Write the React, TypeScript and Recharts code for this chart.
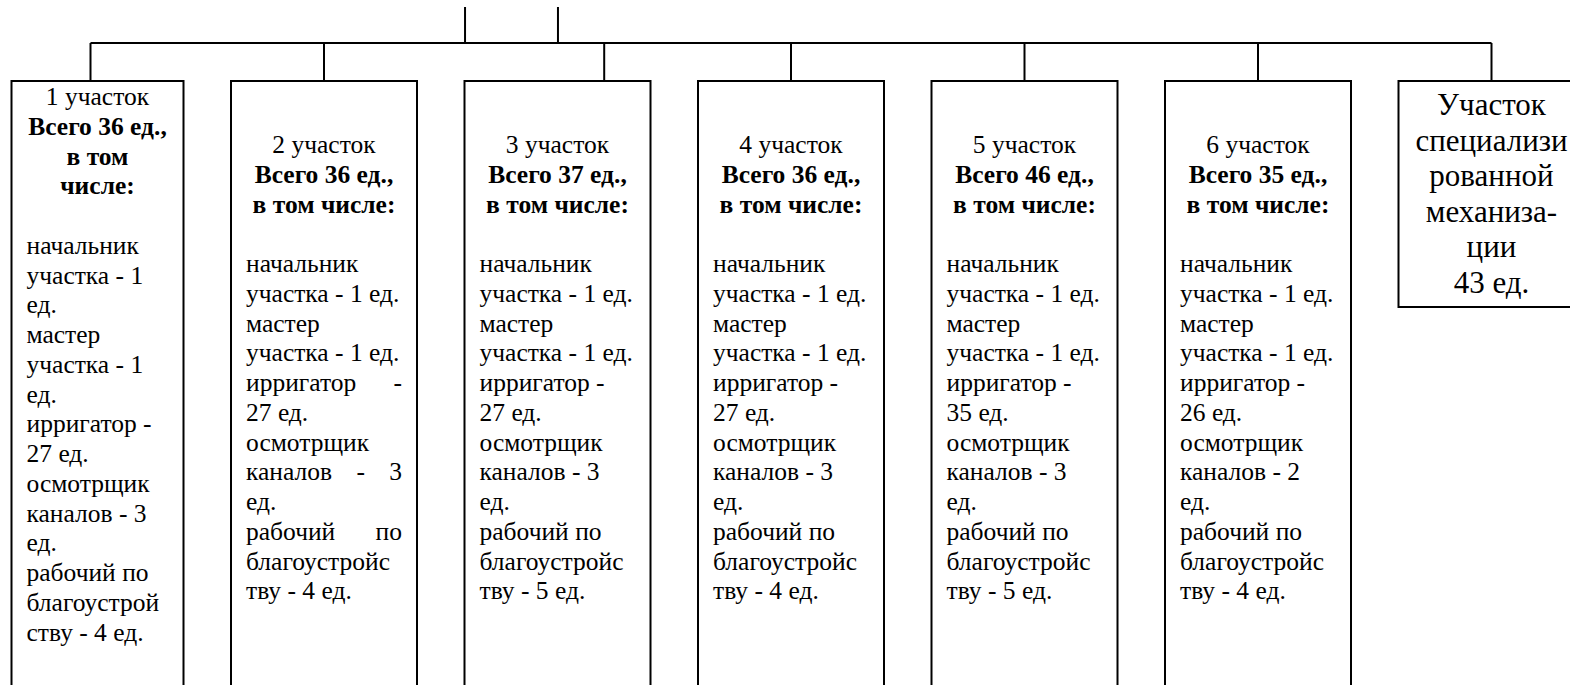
import { ComposedChart, Scatter, XAxis, YAxis, ReferenceLine } from "recharts"

// Org chart data
const sections = ["1 участок", "2 участок", "3 участок", "4 участок", "5 участок", "6 участок"]
const totals = [36, 36, 37, 36, 46, 35]
const chiefs = [1, 1, 1, 1, 1, 1]
const masters = [1, 1, 1, 1, 1, 1]
const irrigators = [27, 27, 27, 27, 35, 26]
const inspectors = [3, 3, 3, 3, 3, 2]
const workers = [4, 4, 5, 4, 5, 4]
const mechLines = ["Участок", "специализи", "рованной", "механиза-", "ции"]
const mechTotal = 43

// Layout (pixels / axis units)
const CHART_W = 1570
const CHART_H = 685
const UNIT_PX = 233.5
const X_MIN = -90.5 / UNIT_PX
const X_MAX = X_MIN + CHART_W / UNIT_PX
const ROOT_TOP = 7
const BUS_Y = 43
const BOX_TOP = 81
const ROOT_X = [1.604, 2.002]
const DROP_X = [0, 1, 2.2, 3, 4, 5, 6]
const HALF_W = 93
const FONT = "Liberation Serif, Times New Roman, DejaVu Serif, serif"
const FS = 25.5
const PITCH = 29.75
const PAD = 15

const rows = [...sections.map((_, i) => ({ x: i, y: BOX_TOP, idx: i })), { x: 6, y: BOX_TOP, idx: 6 }]

let ctx: CanvasRenderingContext2D | null = null
function measure(text: string, bold: boolean) {
  if (!ctx) ctx = document.createElement("canvas").getContext("2d")
  if (!ctx) return text.length * FS * 0.45
  ctx.font = `${bold ? "bold " : ""}${FS}px "Liberation Serif", serif`
  return ctx.measureText(text).width
}

type Line = { text: string; bold?: boolean; center?: boolean; justify?: boolean; blank?: boolean }

function sectionLines(i: number): Line[] {
  const narrow = i === 0
  const out: Line[] = [
    { text: sections[i], center: true },
    { text: `Всего ${totals[i]} ед.,`, bold: true, center: true },
  ]
  if (narrow) {
    out.push({ text: "в том", bold: true, center: true }, { text: "числе:", bold: true, center: true })
  } else {
    out.push({ text: "в том числе:", bold: true, center: true })
  }
  out.push({ text: "", blank: true })
  const paras = narrow
    ? [
        ["начальник", `участка - ${chiefs[i]}`, "ед."],
        ["мастер", `участка - ${masters[i]}`, "ед."],
        ["ирригатор -", `${irrigators[i]} ед.`],
        ["осмотрщик", `каналов - ${inspectors[i]}`, "ед."],
        ["рабочий по", "благоустрой", `ству - ${workers[i]} ед.`],
      ]
    : [
        ["начальник", `участка - ${chiefs[i]} ед.`],
        ["мастер", `участка - ${masters[i]} ед.`],
        ["ирригатор -", `${irrigators[i]} ед.`],
        ["осмотрщик", `каналов - ${inspectors[i]}`, "ед."],
        ["рабочий по", "благоустройс", `тву - ${workers[i]} ед.`],
      ]
  const justify = i === 1
  paras.forEach((p) =>
    p.forEach((t, k) => out.push({ text: t, justify: justify && k < p.length - 1 && t.includes(" ") }))
  )
  return out
}

function BoxShape(props: any) {
  const { cx, cy, payload } = props
  const i = payload.idx
  if (i === 6) {
    const left = cx - HALF_W
    return (
      <g>
        <rect x={left} y={cy} width={HALF_W * 2 + 20} height={226} fill="#fff" stroke="#000" strokeWidth={2} />
        {[...mechLines, `${mechTotal} ед.`].map((t, k) => (
          <text key={k} x={cx} y={cy + 34 + k * 35.5} textAnchor="middle" style={{ fontFamily: FONT, fontSize: 31 }} fill="#000">
            {t}
          </text>
        ))}
      </g>
    )
  }
  const left = i === 0 ? cx - 79 : cx - HALF_W
  const right = cx + HALF_W
  const center = (left + right) / 2
  const first = i === 0 ? 24 : 72
  const lines = sectionLines(i)
  return (
    <g>
      <rect x={left} y={cy} width={right - left} height={CHART_H} fill="#fff" stroke="#000" strokeWidth={2} />
      {lines.map((l, k) => {
        const y = cy + first + k * PITCH
        if (l.blank) return null
        const common = {
          fill: "#000",
          style: { fontFamily: FONT, fontSize: FS, fontWeight: l.bold ? 700 : 400 },
        }
        if (l.center) {
          return (
            <text key={k} x={center} y={y} textAnchor="middle" {...common}>
              {l.text}
            </text>
          )
        }
        if (l.justify) {
          const words = l.text.split(" ")
          const widths = words.map((w) => measure(w, false))
          const span = right - PAD - (left + PAD)
          const gap = (span - widths.reduce((a, b) => a + b, 0)) / (words.length - 1)
          let x = left + PAD
          return (
            <g key={k}>
              {words.map((w, j) => {
                const el = (
                  <text key={j} x={x} y={y} {...common}>
                    {w}
                  </text>
                )
                x += widths[j] + gap
                return el
              })}
            </g>
          )
        }
        return (
          <text key={k} x={left + PAD} y={y} {...common}>
            {l.text}
          </text>
        )
      })}
    </g>
  )
}

export default function App() {
  return (
    <div style={{ position: "absolute", left: 0, top: 0, width: CHART_W, height: CHART_H, background: "#fff" }}>
      <ComposedChart width={CHART_W} height={CHART_H} margin={{ top: 0, right: 0, bottom: 0, left: 0 }}>
        <XAxis type="number" dataKey="x" domain={[X_MIN, X_MAX]} allowDataOverflow hide />
        <YAxis type="number" dataKey="y" domain={[0, CHART_H]} reversed allowDataOverflow hide />
        {ROOT_X.map((x, k) => (
          <ReferenceLine key={`r${k}`} segment={[{ x, y: ROOT_TOP }, { x, y: BUS_Y }]} stroke="#000" strokeWidth={2} />
        ))}
        <ReferenceLine segment={[{ x: DROP_X[0], y: BUS_Y }, { x: DROP_X[6], y: BUS_Y }]} stroke="#000" strokeWidth={2} />
        {DROP_X.map((x, k) => (
          <ReferenceLine key={`d${k}`} segment={[{ x, y: BUS_Y }, { x, y: BOX_TOP }]} stroke="#000" strokeWidth={2} />
        ))}
        <Scatter data={rows} dataKey="y" shape={BoxShape} isAnimationActive={false} />
      </ComposedChart>
    </div>
  )
}
